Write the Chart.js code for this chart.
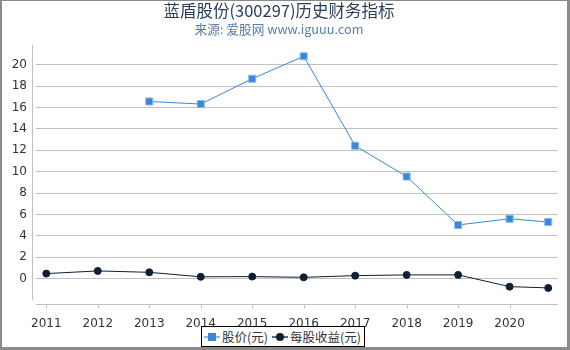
<!DOCTYPE html>
<html lang="zh">
<head>
  <meta charset="UTF-8">
  <title>蓝盾股份(300297)历史财务指标</title>
  <script src="https://cdn.jsdelivr.net/npm/chart.js"></script>
  <style>
    body {
      margin: 0;
      background: #fff;
      font-family: 'DejaVu Sans', 'Noto Sans CJK SC', sans-serif;
    }
    .wrap {
      position: absolute;
      left: 0;
      top: 0;
      width: 570px;
      height: 350px;
    }
    .frame {
      position: absolute;
      left: 0;
      top: 0;
      width: 565px;
      height: 346px;
      border-top: 1px solid #8a8a8a;
      border-left: 2px solid #8a8a8a;
      border-right: 3px solid #8a8a8a;
      border-bottom: 3px solid #8a8a8a;
      pointer-events: none;
    }
    .legend {
      position: absolute;
      left: 201px;
      top: 326px;
      height: 19px;
      padding-right: 3px;
      border: 1px solid #000;
      background: #fff;
      display: flex;
      align-items: center;
      font-family: 'Noto Sans CJK SC', sans-serif;
      font-size: 12.5px;
      color: #333;
      white-space: nowrap;
    }
    .legend .icon {
      position: relative;
      display: inline-block;
      width: 16px;
      height: 10px;
      margin: 0 2px 0 2px;
    }
    .legend .icon .ln {
      position: absolute;
      left: 0;
      right: 0;
      top: 4px;
      height: 2px;
    }
    .legend .icon .mk {
      position: absolute;
      left: 4px;
      top: 1px;
      width: 8px;
      height: 8px;
    }
  </style>
</head>
<body>
<div class="wrap">
  <canvas id="chart" width="570" height="350"></canvas>
</div>
<div class="legend">
  <span class="icon"><span class="ln" style="background:#8db8e8"></span><span class="mk" style="background:#3a86d8"></span></span>
  <span>股价(元)</span>
  <span class="icon" style="margin-left:4px"><span class="ln" style="background:#5b6b7d"></span><span class="mk" style="background:#0f1f35;border-radius:50%"></span></span>
  <span>每股收益(元)</span>
</div>
<div class="frame"></div>
<script>
  // 数据
  var years = [2011, 2012, 2013, 2014, 2015, 2016, 2017, 2018, 2019, 2020, 2020.75];
  var yearTicks = [2011, 2012, 2013, 2014, 2015, 2016, 2017, 2018, 2019, 2020];
  var price = [null, null, 16.57, 16.33, 18.7, 20.8, 12.43, 9.55, 5.02, 5.6, 5.3];
  var eps = [0.47, 0.72, 0.59, 0.17, 0.19, 0.12, 0.28, 0.35, 0.35, -0.75, -0.87];
  var yTicks = [0, 2, 4, 6, 8, 10, 12, 14, 16, 18, 20];

  function toPoints(vals) {
    return years.map(function (x, i) { return { x: x, y: vals[i] }; });
  }

  // 坐标轴线（与绘图区错开几个像素）
  var axisLines = {
    id: 'axisLines',
    afterDraw: function (chart) {
      var ctx = chart.ctx;
      var a = chart.chartArea;
      var xs = chart.scales.x;
      ctx.save();
      ctx.strokeStyle = '#c0c0c0';
      ctx.lineWidth = 1;
      ctx.beginPath();
      ctx.moveTo(32.5, a.top);
      ctx.lineTo(32.5, a.bottom);
      ctx.moveTo(a.left, a.bottom + 4.5);
      ctx.lineTo(a.right, a.bottom + 4.5);
      yearTicks.forEach(function (v) {
        var px = Math.round(xs.getPixelForValue(v)) + 0.5;
        ctx.moveTo(px, a.bottom + 4.5);
        ctx.lineTo(px, a.bottom + 8.5);
      });
      ctx.stroke();
      ctx.restore();
    }
  };

  var ctx = document.getElementById('chart').getContext('2d');
  var chart = new Chart(ctx, {
    type: 'line',
    data: {
      datasets: [{
        label: '股价(元)',
        data: toPoints(price),
        borderColor: '#3a86d8',
        backgroundColor: '#3a86d8',
        borderWidth: 1,
        pointStyle: 'rect',
        pointRadius: 5,
        pointBorderWidth: 1,
        pointBorderColor: '#8db8e8',
        tension: 0
      }, {
        label: '每股收益(元)',
        data: toPoints(eps),
        borderColor: '#0f1f35',
        backgroundColor: '#0f1f35',
        borderWidth: 1,
        pointStyle: 'circle',
        pointRadius: 3.5,
        tension: 0
      }]
    },
    options: {
      responsive: false,
      animation: false,
      layout: { padding: { left: 0, right: 12, top: 0, bottom: 0 } },
      plugins: {
        legend: { display: false },
        tooltip: { enabled: false },
        title: {
          display: true,
          text: '蓝盾股份(300297)历史财务指标',
          color: '#2b3f5c',
          font: { family: "'Noto Sans CJK SC', 'DejaVu Sans', sans-serif", size: 16.5, weight: 'normal', lineHeight: 1.2 },
          padding: { top: 1, bottom: 0 }
        },
        subtitle: {
          display: true,
          text: '来源: 爱股网 www.iguuu.com',
          color: '#5b7ca3',
          font: { family: "'Noto Sans CJK SC', 'DejaVu Sans', sans-serif", size: 12.7, lineHeight: 1.2 },
          padding: { top: 0.5, bottom: 8 }
        }
      },
      scales: {
        x: {
          type: 'linear',
          min: 2010.8,
          max: 2020.94,
          afterBuildTicks: function (s) {
            s.ticks = yearTicks.map(function (v) { return { value: v }; });
          },
          afterFit: function (s) {
            s.height = 50;
            s.paddingLeft = 0;
            s.paddingRight = 0;
          },
          grid: { display: false },
          border: { display: false },
          ticks: {
            color: '#333',
            padding: 9,
            maxRotation: 0,
            autoSkip: false,
            font: { family: "'DejaVu Sans', sans-serif", size: 12 },
            callback: function (v) { return String(v); }
          }
        },
        y: {
          min: -2,
          max: 21.9,
          afterBuildTicks: function (s) {
            s.ticks = yTicks.map(function (v) { return { value: v }; });
          },
          afterFit: function (s) {
            s.width = 36;
            s.paddingTop = 0;
            s.paddingBottom = 0;
          },
          grid: { color: '#c0c0c0', lineWidth: 1, drawTicks: false },
          border: { display: false },
          ticks: {
            color: '#333',
            padding: 9,
            font: { family: "'DejaVu Sans', sans-serif", size: 12 },
            callback: function (v) { return String(v); }
          }
        }
      }
    },
    plugins: [axisLines]
  });
</script>
</body>
</html>
